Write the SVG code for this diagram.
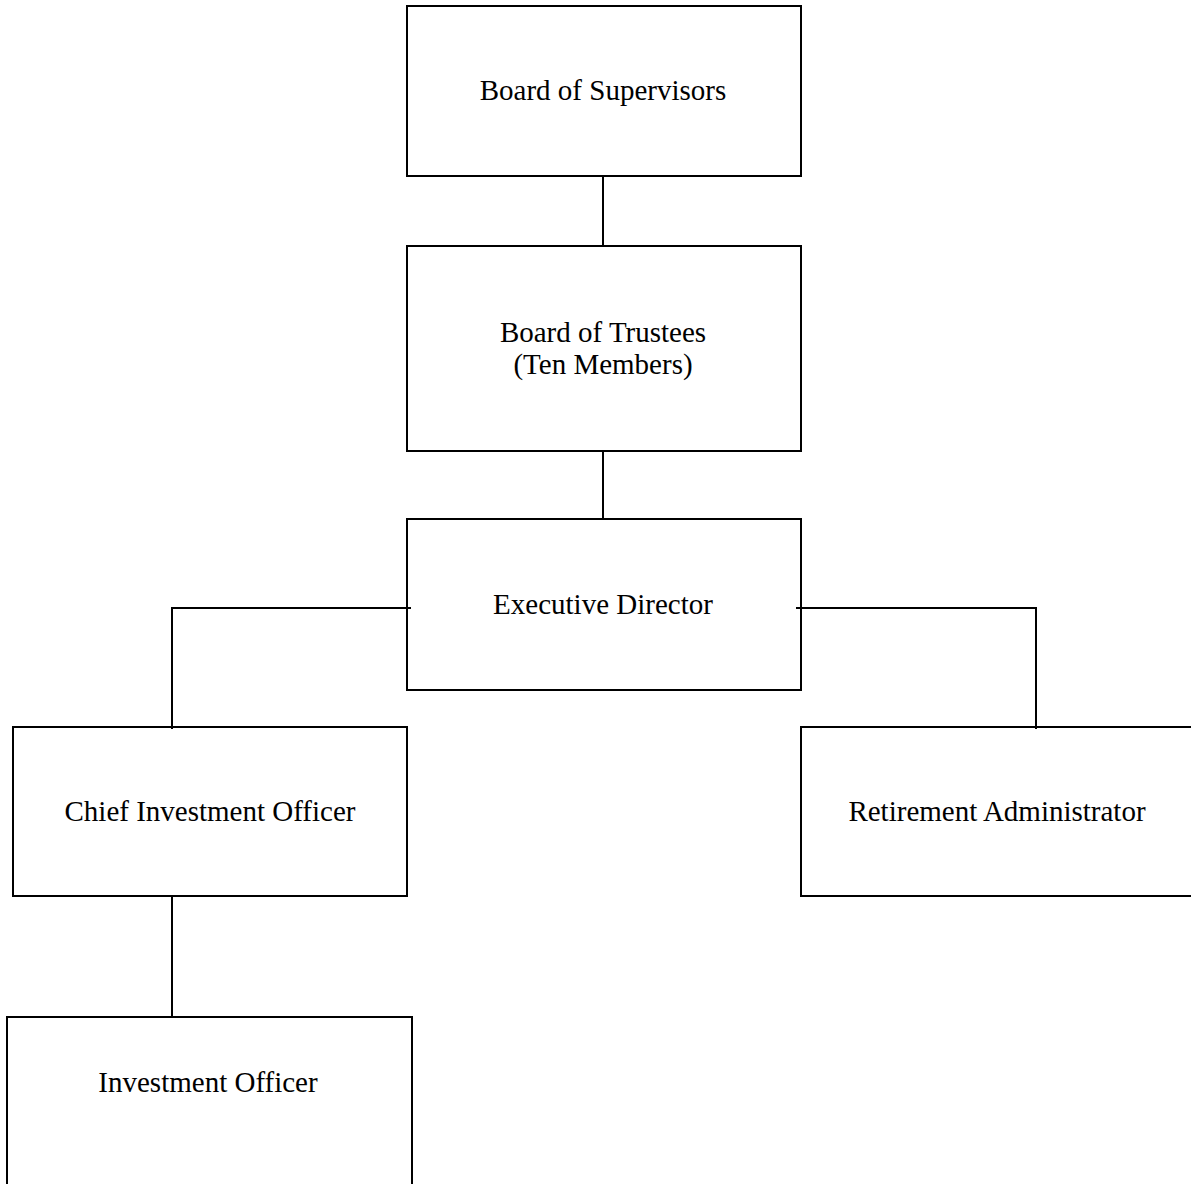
<svg xmlns="http://www.w3.org/2000/svg" width="1191" height="1184" viewBox="0 0 1191 1184">
<style>
.box{fill:none;stroke:#000;stroke-width:2}
.lbl{font-family:"Liberation Serif","Times New Roman",serif;font-size:29px;fill:#000;text-anchor:middle}
.con{fill:none;stroke:#000;stroke-width:2}
</style>
<rect width="1191" height="1184" fill="#fff"/>
<g id="connectors">
<line class="con" x1="603" y1="176" x2="603" y2="246"/>
<line class="con" x1="603" y1="451" x2="603" y2="519"/>
<polyline class="con" points="411,608 172,608 172,729"/>
<polyline class="con" points="796,608 1036,608 1036,729"/>
<line class="con" x1="172" y1="896" x2="172" y2="1017"/>
</g>
<g id="board-of-supervisors">
<rect class="box" x="407" y="6" width="394" height="170"/>
<text class="lbl" x="603" y="100">Board of Supervisors</text>
</g>
<g id="board-of-trustees">
<rect class="box" x="407" y="246" width="394" height="205"/>
<text class="lbl" x="603" y="342">Board of Trustees</text>
<text class="lbl" x="603" y="374">(Ten Members)</text>
</g>
<g id="executive-director">
<rect class="box" x="407" y="519" width="394" height="171"/>
<text class="lbl" x="603" y="614">Executive Director</text>
</g>
<g id="chief-investment-officer">
<rect class="box" x="13" y="727" width="394" height="169"/>
<text class="lbl" x="210" y="821">Chief Investment Officer</text>
</g>
<g id="retirement-administrator">
<rect class="box" x="801" y="727" width="420" height="169"/>
<text class="lbl" x="997" y="821">Retirement Administrator</text>
</g>
<g id="investment-officer">
<rect class="box" x="7" y="1017" width="405" height="200"/>
<text class="lbl" x="208" y="1092">Investment Officer</text>
</g>
</svg>
